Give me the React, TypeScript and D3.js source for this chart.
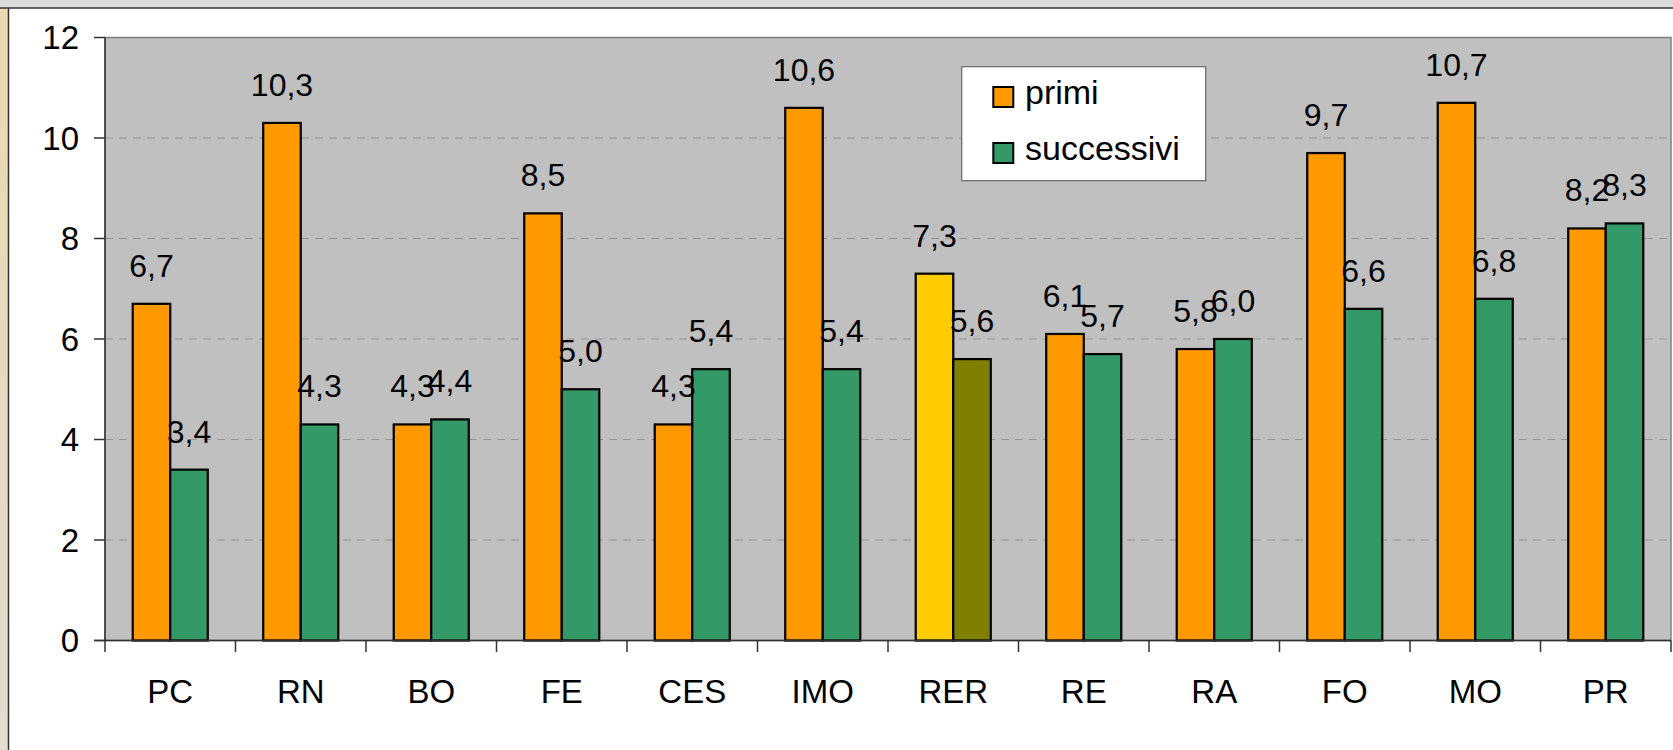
import React from "react";
import * as d3 from "d3";

const categories = ["PC", "RN", "BO", "FE", "CES", "IMO", "RER", "RE", "RA", "FO", "MO", "PR"];
const primi = [6.7, 10.3, 4.3, 8.5, 4.3, 10.6, 7.3, 6.1, 5.8, 9.7, 10.7, 8.2];
const successivi = [3.4, 4.3, 4.4, 5.0, 5.4, 5.4, 5.6, 5.7, 6.0, 6.6, 6.8, 8.3];
const seriesNames = ["primi", "successivi"];
const yTicks = [0, 2, 4, 6, 8, 10, 12];
const highlighted = "RER";

const W = 1673;
const H = 750;
const plot = { left: 105, right: 1671, top: 37.5, bottom: 640.5 };
const colors = { primi: "#FF9900", successivi: "#339966" };
const hiColors = { primi: "#FFCC00", successivi: "#808000" };
const FONT = "Arial, 'Liberation Sans', sans-serif";

export default function App() {
  const x = d3.scaleBand<string>().domain(categories).range([plot.left, plot.right]).paddingInner(0).paddingOuter(0);
  const y = d3.scaleLinear().domain([0, 12]).range([plot.bottom, plot.top]);
  const groupW = x.bandwidth() * 0.575;
  const xs = d3.scaleBand<string>().domain(seriesNames).range([0, groupW]);

  const rows = categories.map((c, i) => ({ c, vals: [primi[i], successivi[i]] }));
  const fmt = (v: number) => d3.format(".1f")(v).replace(".", ",");

  return (
    <svg width={W} height={H} style={{ position: "absolute", left: 0, top: 0, display: "block" }} fontFamily={FONT}>
      <defs>
        <linearGradient id="side" x1="0" y1="0" x2="0" y2="1">
          <stop offset="0" stopColor="#EAD8AE" />
          <stop offset="1" stopColor="#E2DDD0" />
        </linearGradient>
      </defs>
      <rect x={0} y={0} width={W} height={H} fill="#FFFFFF" />
      <rect x={0} y={0} width={W} height={7.5} fill="#DCDCDC" />
      <rect x={0} y={7.5} width={8.5} height={H} fill="url(#side)" />
      <line x1={0} x2={W} y1={8} y2={8} stroke="#333" strokeWidth={1.5} />
      <line x1={8.5} x2={8.5} y1={8} y2={H} stroke="#333" strokeWidth={1.5} />

      {/* plot area */}
      <rect x={plot.left} y={plot.top} width={plot.right - plot.left} height={plot.bottom - plot.top} fill="#C0C0C0" stroke="#808080" strokeWidth={1.5} />
      {yTicks.filter((t) => t > 0 && t < 12).map((t) => (
        <line key={t} x1={plot.left} x2={plot.right} y1={y(t)} y2={y(t)} stroke="#959595" strokeWidth={1} strokeDasharray="8,6" />
      ))}

      {/* bars */}
      {rows.map((r) => {
        const x0 = (x(r.c) as number) + x.bandwidth() / 2 - groupW / 2;
        return r.vals.map((v, j) => {
          const s = seriesNames[j] as "primi" | "successivi";
          const fill = r.c === highlighted ? hiColors[s] : colors[s];
          const bx = x0 + (xs(s) as number);
          return (
            <rect key={r.c + s} x={bx} y={y(v)} width={xs.bandwidth()} height={y(0) - y(v)} fill={fill} stroke="#000" strokeWidth={2.2} />
          );
        });
      })}

      {/* value labels */}
      {rows.map((r) => {
        const x0 = (x(r.c) as number) + x.bandwidth() / 2 - groupW / 2;
        return r.vals.map((v, j) => {
          const s = seriesNames[j];
          const cx = x0 + (xs(s) as number) + xs.bandwidth() / 2;
          return (
            <text key={"l" + r.c + s} x={cx} y={y(v) - 27} textAnchor="middle" fontSize={32} fill="#000">
              {fmt(v)}
            </text>
          );
        });
      })}

      {/* axes */}
      <line x1={plot.left} x2={plot.left} y1={plot.top} y2={plot.bottom} stroke="#333" strokeWidth={1.5} />
      <line x1={94} x2={plot.right} y1={plot.bottom} y2={plot.bottom} stroke="#333" strokeWidth={1.5} />
      {yTicks.map((t) => (
        <g key={"yt" + t}>
          <line x1={94} x2={plot.left} y1={y(t)} y2={y(t)} stroke="#333" strokeWidth={1.5} />
          <text x={79} y={y(t)} textAnchor="end" dominantBaseline="central" fontSize={33} fill="#000">
            {t}
          </text>
        </g>
      ))}
      {[...categories.map((c) => x(c) as number), plot.right].map((tx, i) => (
        <line key={"xt" + i} x1={tx} x2={tx} y1={plot.bottom} y2={652} stroke="#333" strokeWidth={1.5} />
      ))}
      {categories.map((c) => (
        <text key={"xl" + c} x={(x(c) as number) + x.bandwidth() / 2} y={703} textAnchor="middle" fontSize={33} fill="#000">
          {c}
        </text>
      ))}

      {/* legend */}
      <rect x={961.7} y={66.7} width={244} height={114} fill="#FFFFFF" stroke="#666" strokeWidth={1.2} />
      {seriesNames.map((s, i) => (
        <g key={"lg" + s}>
          <rect x={993.3} y={87 + i * 56} width={20} height={20} fill={colors[s as "primi" | "successivi"]} stroke="#000" strokeWidth={2} />
          <text x={1025} y={104 + i * 56} fontSize={34} fill="#000">
            {s}
          </text>
        </g>
      ))}
    </svg>
  );
}
